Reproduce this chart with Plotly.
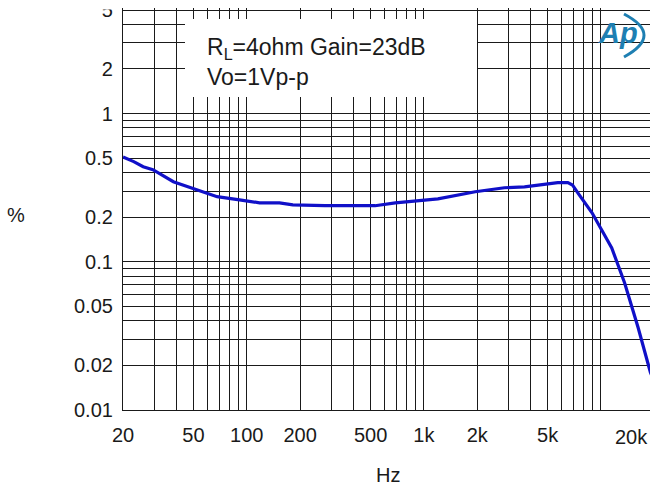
import numpy as np
import plotly.graph_objects as go

# Data (frequency in Hz, THD+N in %)
freq_hz = [20, 23, 26, 29.5, 38.5, 49, 68, 91, 118, 153, 182, 276, 530, 690, 980,
           1200, 1950, 2850, 3700, 4600, 5700, 6500, 6900, 7400, 8900, 10000,
           11500, 13600, 16200, 19000, 20000]
thd_pct = [0.51, 0.474, 0.438, 0.418, 0.347, 0.316, 0.275, 0.262, 0.25, 0.25, 0.242,
           0.239, 0.239, 0.25, 0.262, 0.266, 0.297, 0.316, 0.32, 0.331, 0.342, 0.342,
           0.33, 0.292, 0.214, 0.167, 0.124, 0.072, 0.036, 0.018, 0.0155]

x_grid = [20, 30, 40, 50, 60, 70, 80, 90, 100, 200, 300, 400, 500, 600, 700, 800, 900,
          1000, 2000, 3000, 4000, 5000, 6000, 7000, 8000, 9000, 10000]
x_labels = {20: "20", 50: "50", 100: "100", 200: "200", 500: "500", 1000: "1k",
            2000: "2k", 5000: "5k"}
y_grid = [0.01, 0.02, 0.03, 0.04, 0.05, 0.06, 0.07, 0.08, 0.09, 0.1, 0.2, 0.3, 0.4,
          0.5, 0.6, 0.7, 0.8, 0.9, 1, 2, 3, 4, 5]
y_labels = {0.01: "0.01", 0.02: "0.02", 0.05: "0.05", 0.1: "0.1", 0.2: "0.2",
            0.5: "0.5", 1: "1", 2: "2", 5: "5"}

FONT = "Liberation Sans, Arial, sans-serif"
TXT = "#1a1a1a"
W, H = 650, 499
ML, MT, MB = 123, 8, 89
PW, PH = W - ML, H - MT - MB
Y_TOP = np.log10(5) + 2.0 / 148.0   # a couple of pixels above the 5 gridline


def px(xp):
    return (xp - ML) / PW


def py(yp):
    return (MT + PH - yp) / PH


fig = go.Figure()
fig.add_trace(go.Scatter(x=freq_hz, y=thd_pct, mode="lines",
                         line=dict(color="#1010c8", width=3.2), hoverinfo="skip",
                         showlegend=False))

fig.update_layout(
    width=W, height=H,
    margin=dict(l=ML, r=0, t=MT, b=MB, autoexpand=False),
    paper_bgcolor="white", plot_bgcolor="white",
    font=dict(family=FONT, size=20, color=TXT),
    xaxis=dict(type="log", range=[np.log10(20), np.log10(20) + PW / 177.1],
               tickvals=x_grid, ticktext=[x_labels.get(v, "") for v in x_grid],
               showgrid=True, gridcolor=TXT, gridwidth=1,
               showline=True, linecolor=TXT, linewidth=1.2, mirror=False,
               ticks="", zeroline=False, ticklabelstandoff=7, automargin=False,
               ticklabeloverflow="allow"),
    yaxis=dict(type="log", range=[-2, Y_TOP],
               tickvals=y_grid, ticktext=[y_labels.get(v, "") for v in y_grid],
               showgrid=True, gridcolor=TXT, gridwidth=1,
               showline=True, linecolor=TXT, linewidth=1.2, mirror=False,
               ticks="", zeroline=False, ticklabelstandoff=5, automargin=False,
               ticklabeloverflow="allow"),
)

# white strip cutting the top of the "5" label, as in the reference
fig.add_shape(type="rect", xref="paper", yref="paper",
              x0=px(90), x1=px(121), y0=py(9.5), y1=py(0),
              fillcolor="white", line=dict(width=0), layer="above")

# white box behind the condition text
fig.add_shape(type="rect", xref="paper", yref="paper",
              x0=px(185), x1=px(477), y0=py(97), y1=py(19),
              fillcolor="white", line=dict(width=0), layer="above")

fig.add_annotation(xref="paper", yref="paper", x=px(205), y=py(62),
                   xanchor="left", yanchor="middle", showarrow=False, align="left",
                   text="R<sub>L</sub>=4ohm Gain=23dB<br>Vo=1Vp-p",
                   font=dict(family=FONT, size=23, color=TXT))

fig.add_annotation(xref="paper", yref="paper", x=px(650), y=py(437),
                   xanchor="right", yanchor="middle", showarrow=False,
                   text="20k", font=dict(family=FONT, size=20, color=TXT))

fig.add_annotation(xref="paper", yref="paper", x=px(16), y=py(215),
                   xanchor="center", yanchor="middle", showarrow=False,
                   text="%", font=dict(family=FONT, size=20, color=TXT))
fig.add_annotation(xref="paper", yref="paper", x=px(388), y=py(475),
                   xanchor="center", yanchor="middle", showarrow=False,
                   text="Hz", font=dict(family=FONT, size=20, color=TXT))

# Ap logo
fig.add_annotation(xref="paper", yref="paper", x=px(618), y=py(33),
                   xanchor="center", yanchor="middle", showarrow=False,
                   text="<b><i>Ap</i></b>",
                   font=dict(family=FONT, size=29, color="#1e7fb2"))
fig.add_shape(type="path", xref="paper", yref="paper",
              path=f"M {px(624)},{py(14)} Q {px(664)},{py(35)} {px(624)},{py(57)}",
              line=dict(color="#1e7fb2", width=3), layer="above")

fig.write_html(
    "out.html",
    config={"displayModeBar": False},
    post_script="document.body.style.margin='0';document.body.style.overflow='hidden';",
)
